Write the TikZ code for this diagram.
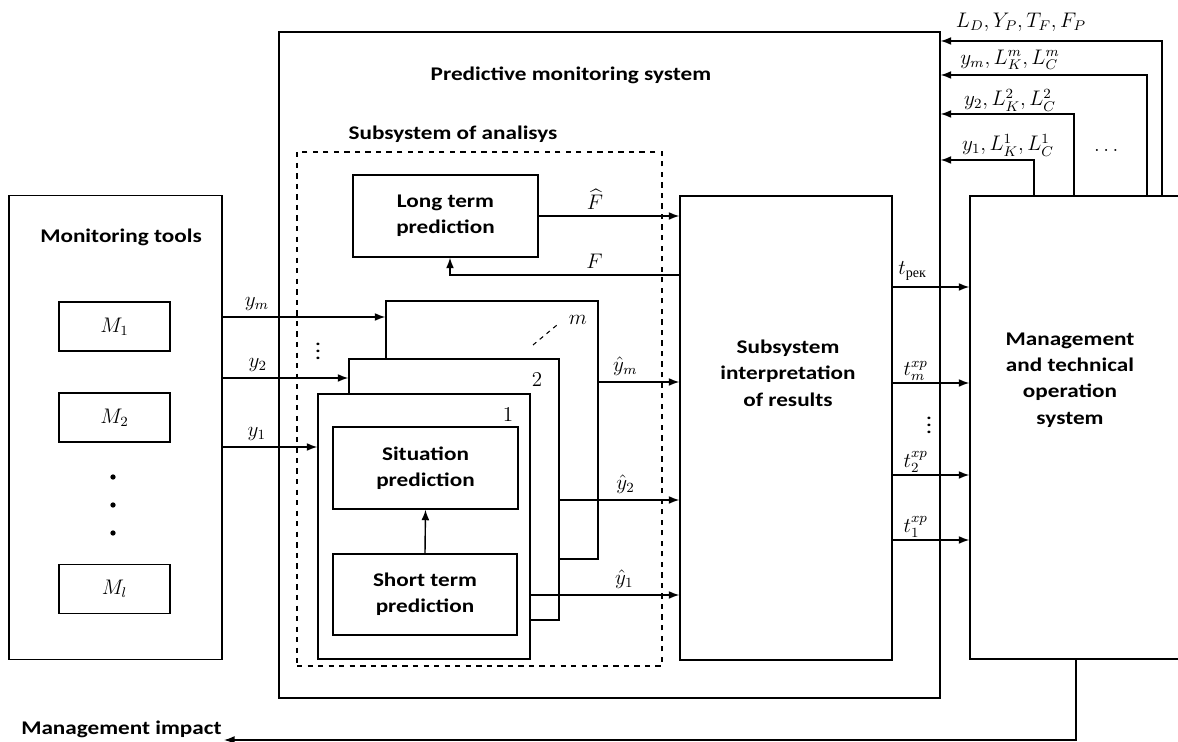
\documentclass[tikz,border=0pt]{standalone}
\usepackage{amsmath}
\usepackage{fontspec}
\setmainfont{Carlito}[FakeStretch=1.2]
\newfontfamily\cyrfont{Liberation Serif}
\usetikzlibrary{arrows.meta}

\tikzset{
  blk/.style={draw, fill=white, inner sep=0pt},
  ttl/.style={font=\fontsize{11}{15}\selectfont\bfseries, align=center},
  lbl/.style={inner sep=1pt},
}

\begin{document}
\begin{tikzpicture}[x=0.02cm,y=-0.02cm,line width=0.8pt,>={Latex[length=6pt,width=4.5pt]},font=\fontsize{12}{15}\selectfont]
\useasboundingbox (0,0) rectangle (1178,742);
% predictive monitoring system
\node[blk, minimum width=13.22cm, minimum height=13.32cm] (pms) at (609.5,365) {};
\node[ttl] (pmstitle) at (571,75) {Predictive monitoring system};
\node[blk, dashed, fill=none, minimum width=7.3cm, minimum height=10.28cm] (ana) at (479.5,409) {};
\node[ttl] (anatitle) at (453,134) {Subsystem of analisys};
% monitoring tools
\node[blk, minimum width=4.26cm, minimum height=9.28cm] (mon) at (115.5,427.5) {};
\node[ttl] (montitle) at (121,237) {Monitoring tools};
\node[blk, minimum width=2.22cm, minimum height=0.98cm] (m1) at (114.5,326.5) {$M_1$};
\node[blk, minimum width=2.22cm, minimum height=0.98cm] (m2) at (114.5,417.5) {$M_2$};
\node[blk, minimum width=2.22cm, minimum height=0.98cm] (ml) at (114.5,589) {$M_l$};
\foreach \y in {477,505,533} \fill (113,\y) circle (1.5pt);
% prediction blocks 1..m
\node[blk, minimum width=4.24cm, minimum height=5.16cm] (blkm) at (492,430) {};
\node[blk, minimum width=4.2cm, minimum height=5.22cm] (blk2) at (454,489.5) {};
\node[blk, minimum width=4.24cm, minimum height=5.3cm] (blk1) at (424,526.5) {};
\node[lbl] (lm) at (578,320) {$m$};
\node[lbl] (l2) at (537,380) {$2$};
\node[lbl] (l1) at (508,415) {$1$};
\draw[line width=0.6pt, dash pattern=on 2.5pt off 2.5pt] (533,345) -- (557,325);
\node[blk, ttl, minimum width=3.7cm, minimum height=1.64cm] (sit) at (425.5,468) {Situation\\prediction};
\node[blk, ttl, minimum width=3.68cm, minimum height=1.62cm] (short) at (425,594.5) {Short term\\prediction};
\node[blk, ttl, minimum width=3.7cm, minimum height=1.64cm] (long) at (445.5,216) {Long term\\prediction};
\draw[->] (short.north) -- (sit.south);
% interpretation and management
\node[blk, minimum width=4.24cm, minimum height=9.28cm] (interp) at (786,428) {};
\node[ttl] (interptitle) at (788,373) {Subsystem\\interpretation\\of results};
\node[blk, minimum width=4.4cm, minimum height=9.26cm] (mgmt) at (1080,427.5) {};
\node[ttl] (mgmttitle) at (1070,380) {Management\\and technical\\operation\\system};
% inputs
\draw[->] (mon.east |- 0,317) -- (blkm.west |- 0,317) node[pos=0.21, above]{$y_m$};
\draw[->] (mon.east |- 0,378) -- (blk2.west |- 0,378) node[pos=0.28, above]{$y_2$};
\draw[->] (mon.east |- 0,447) -- (blk1.west |- 0,447) node[pos=0.36, above]{$y_1$};
\node[lbl] (ydots) at (318,346) {$\vdots$};
% outputs of analysis
\draw[->] (long.east) -- (interp.west |- long.east) node[pos=0.4, above]{$\widehat{F}$};
\draw[->] (interp.west |- 0,275) -| (long.south -| 450,0) node[pos=0.185, above]{$F$};
\draw[->] (blkm.east |- 0,382) -- (interp.west |- 0,382) node[pos=0.33, above]{$\hat{y}_m$};
\draw[->] (blk2.east |- 0,500) -- (interp.west |- 0,500) node[pos=0.55, above]{$\hat{y}_2$};
\draw[->] (blk1.east |- 0,595) -- (interp.west |- 0,595) node[pos=0.63, above]{$\hat{y}_1$};
% recommendations
\draw[->] (interp.east |- 0,287) -- (mgmt.west |- 0,287) node[pos=0.26, above]{$t_{\text{\cyrfont рек}}$};
\draw[->] (interp.east |- 0,383) -- (mgmt.west |- 0,383) node[pos=0.3, above, lbl]{$t^{xp}_{m}$};
\draw[->] (interp.east |- 0,475) -- (mgmt.west |- 0,475) node[pos=0.3, above, lbl]{$t^{xp}_{2}$};
\draw[->] (interp.east |- 0,540) -- (mgmt.west |- 0,540) node[pos=0.3, above, lbl]{$t^{xp}_{1}$};
\node[lbl] (tdots) at (929,420) {$\vdots$};
% feedback
\draw[->] (mgmt.north -| 1162,0) |- (pms.east |- 0,41);
\draw[->] (mgmt.north -| 1147,0) |- (pms.east |- 0,75);
\draw[->] (mgmt.north -| 1074,0) |- (pms.east |- 0,114);
\draw[->] (mgmt.north -| 1034,0) |- (pms.east |- 0,160);
\node[lbl] (fb0) at (1021,22) {$L_D, Y_P, T_F, F_P$};
\node[lbl] (fbm) at (1010,60) {$y_m, L^m_K, L^m_C$};
\node[lbl] (fb2) at (1010,100) {$y_2, L^2_K, L^2_C$};
\node[lbl] (fb1) at (1008,145) {$y_1, L^1_K, L^1_C$};
\node[lbl] (fbdots) at (1108,150) {$\dots$};
% impact
\node[ttl, anchor=south east, inner sep=1pt] (impact) at (224,740) {Management impact};
\draw[->] (mgmt.south -| 1076,0) |- (impact.south east);
\end{tikzpicture}
\end{document}
